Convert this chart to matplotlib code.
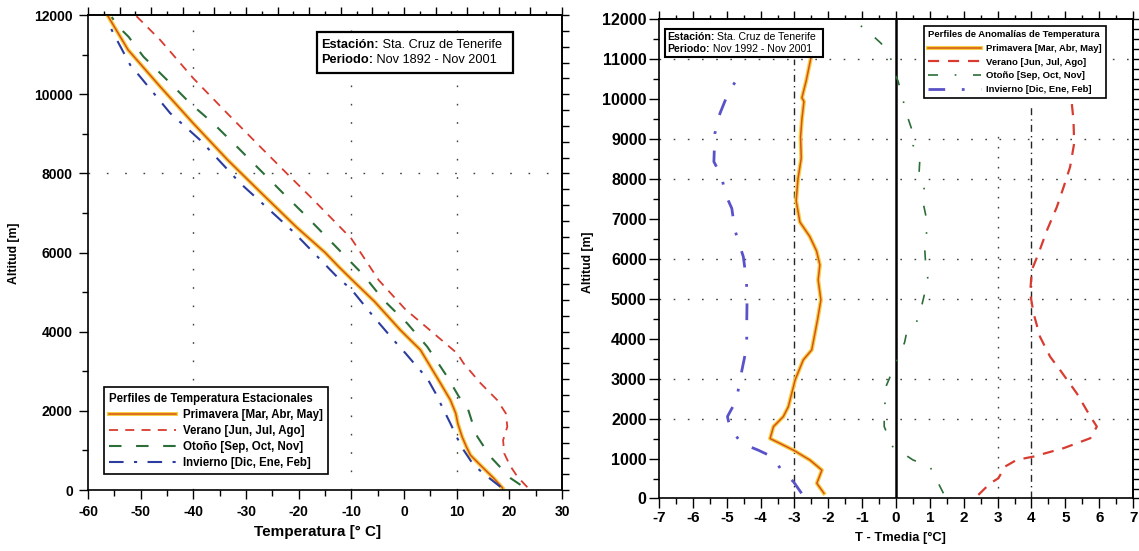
import numpy as np
import matplotlib
matplotlib.use('Agg')
import matplotlib.pyplot as plt
import matplotlib.patheffects as pe
from matplotlib.ticker import MultipleLocator, NullFormatter
from matplotlib.patches import Rectangle

plt.rcParams['font.family'] = ['Liberation Sans', 'DejaVu Sans']
plt.rcParams['axes.unicode_minus'] = False

# ---- perfiles de temperatura (altitud m, temperatura C)
alt_prim = [50, 300, 600, 880, 1100, 1350, 1680, 1940, 2270, 2700, 3120, 3540, 3750, 4040,
            4760, 5300, 5640, 6000, 6650, 7490, 8340, 9260, 10190, 11120, 11970]
t_prim = [18.7, 17.0, 14.7, 12.6, 11.8, 11.0, 10.2, 9.8, 8.8, 6.9, 5.0, 3.1, 1.5, -0.7,
          -5.6, -9.8, -12.4, -15.0, -20.5, -27.0, -33.5, -40.0, -46.3, -52.4, -56.2]

alt_ver = [70, 340, 620, 930, 1260, 1600, 1940, 2270, 2700, 3200, 3450, 3960, 4570, 5300,
           6350, 7410, 7830, 8670, 9520, 10400, 11370, 11970]
t_ver = [23.4, 21.5, 20.1, 19.0, 18.8, 19.6, 19.3, 17.7, 14.5, 11.3, 10.1, 5.6, 0.2, -4.8,
         -10.0, -17.8, -21.0, -27.3, -33.6, -40.0, -46.3, -50.8]

alt_oto = [130, 300, 840, 1350, 1600, 2100, 2360, 2860, 3620, 4210, 4800, 5430, 6990, 7490,
           8080, 8670, 9260, 9770, 10360, 10950, 11450, 11700, 11950]
t_oto = [22.1, 20.2, 16.4, 13.9, 13.2, 12.0, 10.4, 8.2, 4.4, 0.6, -3.9, -7.7, -19.1, -22.9,
         -27.3, -31.7, -36.2, -40.6, -45.0, -49.5, -52.3, -54.2, -55.5]

alt_inv = [80, 340, 630, 1010, 1310, 1680, 2190, 2440, 2820, 3200, 3450, 3790, 4380, 5100,
           5300, 6520, 6900, 7750, 8840, 9520, 10440, 10740, 11540, 11870]
t_inv = [18.3, 15.8, 13.2, 11.3, 10.1, 8.8, 6.9, 6.0, 4.4, 1.9, 0.3, -2.0, -5.8, -10.2,
         -12.1, -21.0, -24.1, -31.1, -38.7, -44.4, -50.1, -52.0, -55.2, -56.4]

# ---- anomalias (altitud m, T - Tmedia)
alt_a_prim = [130, 380, 710, 960, 1210, 1380, 1500, 1800, 2050, 2300, 2970, 3470, 3720, 4470,
              4970, 5470, 5850, 6200, 6560, 6920, 7450, 7980, 8520, 9050, 9500, 9940, 10030,
              10470, 11090]
a_prim = [-2.13, -2.34, -2.19, -2.54, -3.03, -3.43, -3.72, -3.62, -3.33, -3.18, -2.98, -2.74,
          -2.49, -2.32, -2.22, -2.30, -2.25, -2.35, -2.55, -2.84, -2.95, -2.90, -2.80, -2.82,
          -2.78, -2.72, -2.78, -2.65, -2.50]

alt_a_ver = [90, 380, 505, 800, 965, 1050, 1260, 1510, 1800, 2050, 2630, 3220, 3550, 4050,
             4640, 5140, 5720, 6140, 6720, 7300, 7800, 8300, 8890, 9470, 9980, 10500, 11000]
a_ver = [2.43, 2.78, 3.02, 3.22, 3.56, 4.06, 4.95, 5.74, 5.93, 5.74, 5.34, 4.84, 4.55, 4.25,
         4.06, 3.96, 4.01, 4.21, 4.46, 4.75, 4.95, 5.14, 5.26, 5.24, 5.18, 5.05, 4.95]

alt_a_oto = [130, 545, 800, 964, 1300, 1800, 2050, 2500, 2800, 3300, 3900, 4100, 4400, 4800,
             5150, 5450, 5800, 6200, 6650, 7000, 7400, 7700, 8150, 8450, 8850, 9150, 9650,
             10000, 10450, 10650, 11150, 11400, 11750, 11950]
a_oto = [1.4, 1.15, 1.0, 0.5, -0.1, -0.35, -0.35, -0.32, -0.3, -0.05, 0.25, 0.3, 0.6, 0.75,
         0.85, 0.95, 0.88, 0.85, 0.9, 0.9, 0.8, 0.85, 0.68, 0.7, 0.5, 0.5, 0.3, 0.2, 0.06,
         -0.05, -0.2, -0.45, -0.9, -1.25]

alt_a_inv = [130, 420, 710, 1050, 1210, 1380, 1760, 2050, 2470, 2970, 3800, 4390, 5000, 5470,
             6050, 6720, 7260, 7640, 8060, 8430, 9140, 9640, 10060, 10350, 10730]
a_inv = [-2.79, -3.03, -3.38, -3.67, -4.07, -4.56, -4.90, -4.98, -4.71, -4.61, -4.41, -4.41,
         -4.40, -4.42, -4.51, -4.76, -4.85, -5.05, -5.15, -5.38, -5.35, -5.20, -5.00, -4.81,
         -4.51]

labels = ['Primavera [Mar, Abr, May]', 'Verano [Jun, Jul, Ago]',
          'Otoño [Sep, Oct, Nov]', 'Invierno [Dic, Ene, Feb]']

# lineas de referencia del panel derecho
ref_x = [-3, 4]
ref_top = [11000, 9800]
grid_y_right = [2000, 3000, 5000, 6000, 8000, 9000, 11000]
grid_x_left = [-40, -10, 10]
grid_y_left = [8000]

c_prim = '#d9521c'
c_halo = '#f4d040'
c_ver = '#d83c30'
c_oto = '#2c6e38'
c_inv = '#2c3c9e'
c_inv2 = '#5a52c8'

fig = plt.figure(figsize=(11.39, 5.51), dpi=100)
ax1 = fig.add_axes([0.0773, 0.1107, 0.4162, 0.862])
ax2 = fig.add_axes([0.5786, 0.0953, 0.4162, 0.870])

halo = [pe.Stroke(linewidth=2.9, foreground=c_halo), pe.Normal()]

# ---------------- panel izquierdo
l1, = ax1.plot(t_prim, alt_prim, color=c_prim, lw=1.1, path_effects=halo)
l2, = ax1.plot(t_ver, alt_ver, color=c_ver, lw=1.3, ls=(0, (5, 4)))
l3, = ax1.plot(t_oto, alt_oto, color=c_oto, lw=1.5, ls=(0, (6, 7)))
l4, = ax1.plot(t_inv, alt_inv, color=c_inv, lw=1.5, ls=(0, (7, 5, 1.5, 5)))

for gx in grid_x_left:
    ax1.axvline(gx, color='0.25', lw=1, ls=(0, (1.2, 12)), zorder=0)
for gy in grid_y_left:
    ax1.axhline(gy, color='0.25', lw=1, ls=(0, (1.2, 12)), zorder=0)

ax1.set_xlim(-60, 30)
ax1.set_ylim(0, 12000)
ax1.xaxis.set_major_locator(MultipleLocator(10))
ax1.xaxis.set_minor_locator(MultipleLocator(5))
ax1.yaxis.set_major_locator(MultipleLocator(2000))
ax1.yaxis.set_minor_locator(MultipleLocator(1000))
ax1.tick_params(which='major', direction='out', length=6.5, width=1, pad=4.5, labelsize=10)
ax1.tick_params(which='minor', direction='out', length=4, width=1)
ax1.tick_params(axis='x', pad=4)

top1 = ax1.secondary_xaxis('top')
top1.xaxis.set_major_locator(MultipleLocator(6))
top1.xaxis.set_minor_locator(MultipleLocator(3))
top1.xaxis.set_major_formatter(NullFormatter())
top1.tick_params(which='major', direction='out', length=6, width=1)
top1.tick_params(which='minor', direction='out', length=3, width=1)

right1 = ax1.secondary_yaxis('right')
right1.yaxis.set_major_locator(MultipleLocator(400))
right1.yaxis.set_major_formatter(NullFormatter())
right1.tick_params(which='major', direction='out', length=5, width=1)

leg1 = ax1.legend([l1, l2, l3, l4], labels, loc='lower left', bbox_to_anchor=(0.034, 0.034),
                  title='Perfiles de Temperatura Estacionales',
                  prop={'weight': 'bold', 'size': 8.3},
                  title_fontproperties={'weight': 'bold', 'size': 8.3},
                  alignment='left', fancybox=False, edgecolor='black', framealpha=1,
                  handlelength=5.8, handletextpad=0.6, labelspacing=0.35, borderpad=0.45,
                  borderaxespad=0)
leg1.get_frame().set_linewidth(1.2)

ax1.add_patch(Rectangle((0.483, 0.878), 0.414, 0.086, transform=ax1.transAxes,
                        facecolor='white', edgecolor='black', lw=1.6, zorder=5))
ta = ax1.text(0.492, 0.937, 'Estación:', transform=ax1.transAxes, fontsize=9.2,
              weight='bold', va='center', zorder=6)
ax1.annotate(' Sta. Cruz de Tenerife', xy=(1, 0.5), xycoords=ta, fontsize=9.2,
             va='center', ha='left', zorder=6)
tb = ax1.text(0.492, 0.905, 'Periodo:', transform=ax1.transAxes, fontsize=9.2,
              weight='bold', va='center', zorder=6)
ax1.annotate(' Nov 1892 - Nov 2001', xy=(1, 0.5), xycoords=tb, fontsize=9.2,
             va='center', ha='left', zorder=6)

# ---------------- panel derecho
for gy in grid_y_right:
    ax2.axhline(gy, color='0.25', lw=1, ls=(0, (1.2, 9)), zorder=0)
ax2.vlines([3], 0, [9200], color='0.25', lw=1, ls=(0, (1.2, 6)), zorder=0)
ax2.vlines(ref_x, 0, ref_top, color='0.15', lw=1, ls=(0, (5, 3, 1, 3)), zorder=1)
ax2.axvline(0, color='black', lw=1.8, zorder=2)

m1, = ax2.plot(a_prim, alt_a_prim, color=c_prim, lw=1.1, path_effects=halo)
m2, = ax2.plot(a_ver, alt_a_ver, color=c_ver, lw=1.6, ls=(0, (5, 4)))
m3, = ax2.plot(a_oto, alt_a_oto, color=c_oto, lw=1.2, ls=(0, (6, 10, 1, 10)))
m4, = ax2.plot(a_inv, alt_a_inv, color=c_inv2, lw=2, ls=(0, (6, 6, 1, 6)))

ax2.set_xlim(-7, 7)
ax2.set_ylim(0, 12000)
ax2.xaxis.set_major_locator(MultipleLocator(1))
ax2.xaxis.set_minor_locator(MultipleLocator(0.5))
ax2.yaxis.set_major_locator(MultipleLocator(1000))
ax2.yaxis.set_minor_locator(MultipleLocator(500))
ax2.tick_params(which='major', direction='out', length=7, width=1, pad=2, labelsize=11.5)
ax2.tick_params(which='minor', direction='out', length=4, width=1)
ax2.tick_params(axis='x', labelsize=11)

top2 = ax2.secondary_xaxis('top')
top2.xaxis.set_major_locator(MultipleLocator(1))
top2.xaxis.set_minor_locator(MultipleLocator(0.5))
top2.xaxis.set_major_formatter(NullFormatter())
top2.tick_params(which='major', direction='out', length=6, width=1)
top2.tick_params(which='minor', direction='out', length=3, width=1)

right2 = ax2.secondary_yaxis('right')
right2.yaxis.set_major_locator(MultipleLocator(250))
right2.yaxis.set_major_formatter(NullFormatter())
right2.tick_params(which='major', direction='out', length=5, width=1)

leg2 = ax2.legend([m1, m2, m3, m4], labels, loc='upper left', bbox_to_anchor=(0.559, 0.985),
                  title='Perfiles de Anomalías de Temperatura',
                  prop={'weight': 'bold', 'size': 6.8},
                  title_fontproperties={'weight': 'bold', 'size': 6.8},
                  alignment='left', fancybox=False, edgecolor='black', framealpha=1,
                  handlelength=5.6, handletextpad=0.6, labelspacing=0.5, borderpad=0.4,
                  borderaxespad=0)
leg2.get_frame().set_linewidth(1.2)

ax2.add_patch(Rectangle((0.013, 0.921), 0.333, 0.058, transform=ax2.transAxes,
                        facecolor='white', edgecolor='black', lw=1.5, zorder=5))
tc = ax2.text(0.017, 0.962, 'Estación:', transform=ax2.transAxes, fontsize=7.6,
              weight='bold', va='center', zorder=6)
ax2.annotate(' Sta. Cruz de Tenerife', xy=(1, 0.5), xycoords=tc, fontsize=7.6,
             va='center', ha='left', zorder=6)
td = ax2.text(0.017, 0.937, 'Periodo:', transform=ax2.transAxes, fontsize=7.6,
              weight='bold', va='center', zorder=6)
ax2.annotate(' Nov 1992 - Nov 2001', xy=(1, 0.5), xycoords=td, fontsize=7.6,
             va='center', ha='left', zorder=6)

for ax in (ax1, ax2):
    for sp in ax.spines.values():
        sp.set_linewidth(1.2)
    for lab in ax.get_xticklabels() + ax.get_yticklabels():
        lab.set_fontweight('bold')
for sax in (top1, right1, top2, right2):
    for sp in sax.spines.values():
        sp.set_linewidth(1.2)

# etiquetas de ejes
fig.text(14 / 1139, 1 - 253 / 551, 'Altitud [m]', rotation=90, ha='center', va='center',
         fontsize=8.8, weight='bold')
fig.text(318 / 1139, 1 - 532 / 551, 'Temperatura [° C]', ha='center', va='center',
         fontsize=11, weight='bold')
fig.text(588 / 1139, 1 - 262 / 551, 'Altitud [m]', rotation=90, ha='center', va='center',
         fontsize=8.8, weight='bold')
fig.text(900 / 1139, 1 - 538 / 551, 'T - Tmedia [°C]', ha='center', va='center',
         fontsize=9.3, weight='bold')

fig.savefig('out.png', dpi=100)
